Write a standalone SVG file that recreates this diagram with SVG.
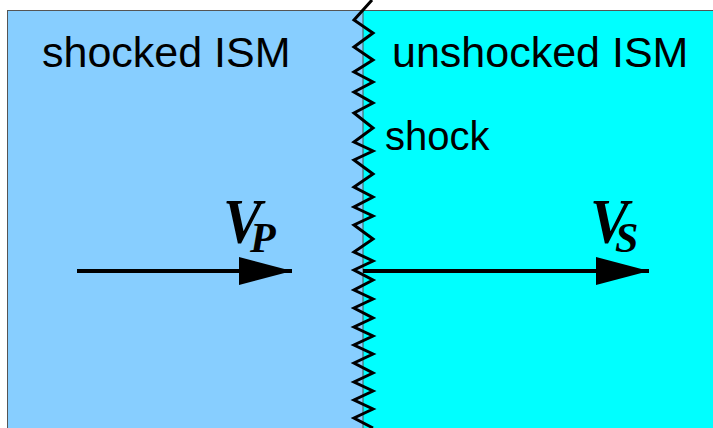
<svg xmlns="http://www.w3.org/2000/svg" width="713" height="428" viewBox="0 0 713 428">
<style>
.lbl{font-family:"Liberation Sans",Arial,sans-serif;fill:#000}
.v{font-family:"Liberation Serif","Times New Roman",serif;font-style:italic;font-weight:bold;fill:#000}
.arrow{stroke:#000;stroke-width:4;fill:none}
</style>
<defs>
<marker id="ah" markerUnits="userSpaceOnUse" markerWidth="54" markerHeight="30" refX="53" refY="14" orient="auto">
<path d="M0,0 L53,14 L0,28 Z" fill="#000"/>
</marker>
</defs>
<g id="shocked-region">
<rect x="7.5" y="10.5" width="356" height="430" fill="#87CEFF" stroke="#555" stroke-width="1"/>
<text class="lbl" x="42" y="67" font-size="43">shocked ISM</text>
</g>
<g id="unshocked-region">
<rect x="363" y="10.5" width="360" height="430" fill="#00FFFF" stroke="#555" stroke-width="1"/>
<text class="lbl" x="392" y="67" font-size="43">unshocked ISM</text>
</g>
<g id="shock">
<path d="M372,0 L354,20 L373,33 L354,47 L373,60 L354,72 L373,82 L354,92 L373,103 L354,113 L373,128 L354,142 L373,151 L354,160 L373,174 L354,187 L373,197 L354,207 L373,216 L354,225 L373,239 L354,252 L373,261 L354,270 L373,280 L354,290 L373,299 L354,308 L373,318 L354,327 L373,336 L354,345 L373,354 L354,363 L373,373 L354,382 L373,391 L354,400 L373,409 L354,418 L373,428" fill="none" stroke="#000" stroke-width="3" stroke-linejoin="miter"/>
<text class="lbl" x="385" y="150" font-size="40">shock</text>
</g>
<g id="connectors">
<line class="arrow" x1="77" y1="271" x2="292" y2="271" marker-end="url(#ah)"/>
<line class="arrow" x1="363" y1="271" x2="649" y2="271" marker-end="url(#ah)"/>
</g>
<g id="vp">
<text class="v" transform="translate(223,243) scale(0.92,1)" x="0" y="0" font-size="63">V</text>
<text class="v" x="250" y="252" font-size="42">P</text>
</g>
<g id="vs">
<text class="v" transform="translate(590,243) scale(0.92,1)" x="0" y="0" font-size="63">V</text>
<text class="v" x="615" y="252" font-size="42">S</text>
</g>
</svg>
